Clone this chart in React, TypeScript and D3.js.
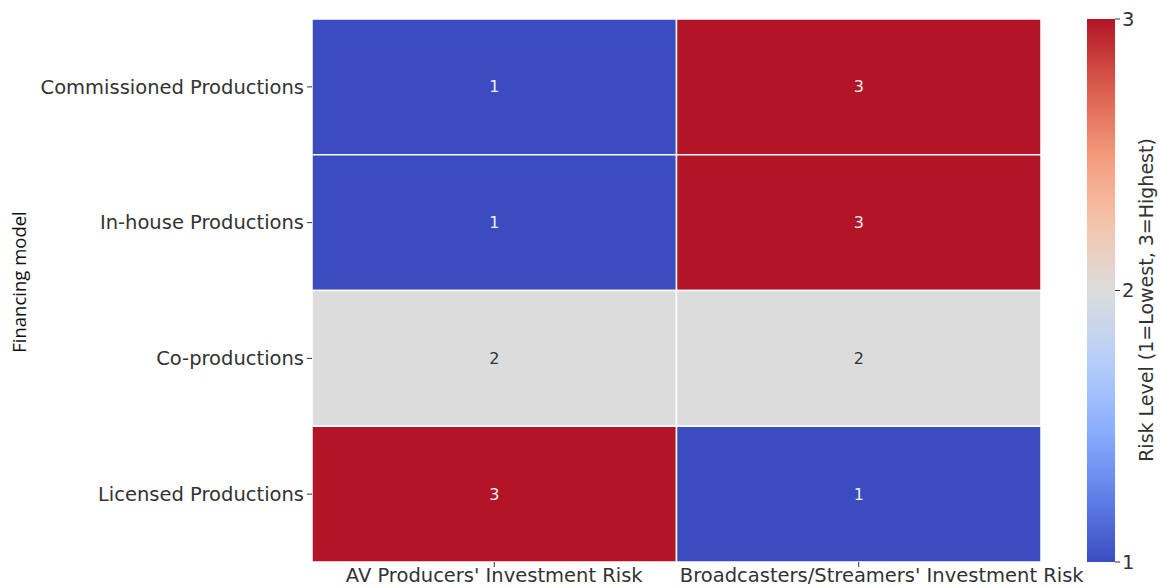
import React from "react";
import * as d3 from "d3";

const rows = ["Commissioned Productions", "In-house Productions", "Co-productions", "Licensed Productions"];
const cols = ["AV Producers' Investment Risk", "Broadcasters/Streamers' Investment Risk"];
const avProducers = [1, 1, 2, 3];
const broadcasters = [3, 3, 2, 1];
const cbTicks = [1, 2, 3];
const colLabelShift = [0, 23];
const coolwarmStops = ["#3b4cc0", "#6282ea", "#8db0fe", "#b8d0f9", "#dcdcdc", "#f5c4ac", "#f49a7b", "#db5c4b", "#b11526"];

const W = 1161, H = 587;
const margin = { left: 312, top: 19, right: 1041, bottom: 562 };
const cb = { x0: 1087, x1: 1115 };
const font = "DejaVu Sans, sans-serif";

export default function App() {
  const x = d3.scaleBand().domain(cols).range([margin.left, margin.right]);
  const y = d3.scaleBand().domain(rows).range([margin.top, margin.bottom]);
  const interp = d3.piecewise(d3.interpolateRgb, coolwarmStops);
  const color = d3.scaleSequential(interp).domain([1, 3]);
  const cbY = d3.scaleLinear().domain([1, 3]).range([margin.bottom, margin.top]);
  const series = [avProducers, broadcasters];
  const cells = [] as { r: string; c: string; v: number }[];
  rows.forEach((r, i) => cols.forEach((c, j) => cells.push({ r, c, v: series[j][i] })));
  const gradStops = d3.range(0, 1.0001, 0.05);
  return (
    <svg width={W} height={H} style={{ position: "absolute", left: 0, top: 0, background: "#fff" }} fontFamily={font}>
      <defs>
        <linearGradient id="cbgrad" x1="0" y1="1" x2="0" y2="0">
          {gradStops.map((t) => (
            <stop key={t} offset={t} stopColor={interp(t)} />
          ))}
        </linearGradient>
      </defs>
      {cells.map((d, i) => (
        <g key={i}>
          <rect x={x(d.c)} y={y(d.r)} width={x.bandwidth()} height={y.bandwidth()} fill={color(d.v)} stroke="#fff" strokeWidth={1.5} />
          <text x={x(d.c)! + x.bandwidth() / 2} y={y(d.r)! + y.bandwidth() / 2} dy="0.35em" textAnchor="middle" fontSize={16}
            fill={d.v === 2 ? "#333" : "#eeeeee"}>{d.v}</text>
        </g>
      ))}
      {rows.map((r) => (
        <g key={r}>
          <line x1={margin.left - 5} x2={margin.left} y1={y(r)! + y.bandwidth() / 2} y2={y(r)! + y.bandwidth() / 2} stroke="#333" />
          <text x={margin.left - 8} y={y(r)! + y.bandwidth() / 2} dy="0.35em" textAnchor="end" fontSize={19.5} fill="#333">{r}</text>
        </g>
      ))}
      {cols.map((c, j) => (
        <g key={c}>
          <line x1={x(c)! + x.bandwidth() / 2} x2={x(c)! + x.bandwidth() / 2} y1={margin.bottom} y2={margin.bottom + 5} stroke="#333" />
          <text x={x(c)! + x.bandwidth() / 2} dx={colLabelShift[j]} y={margin.bottom + 4} dy="0.8em" textAnchor="middle" fontSize={19.5} fill="#333">{c}</text>
        </g>
      ))}
      <text transform={`translate(26,282) rotate(-90)`} textAnchor="middle" fontSize={18.5} fontFamily="Open Sans, Noto Sans, sans-serif" fill="#111">Financing model</text>
      <rect x={cb.x0} y={margin.top} width={cb.x1 - cb.x0} height={margin.bottom - margin.top} fill="url(#cbgrad)" />
      {cbTicks.map((t) => (
        <g key={t}>
          <line x1={cb.x1} x2={cb.x1 + 5} y1={cbY(t)} y2={cbY(t)} stroke="#333" />
          <text x={cb.x1 + 7} y={cbY(t)} dy="0.35em" fontSize={19.5} fill="#333">{t}</text>
        </g>
      ))}
      <text transform={`translate(1153,300) rotate(-90)`} textAnchor="middle" fontSize={19} fill="#333">Risk Level (1=Lowest, 3=Highest)</text>
    </svg>
  );
}
